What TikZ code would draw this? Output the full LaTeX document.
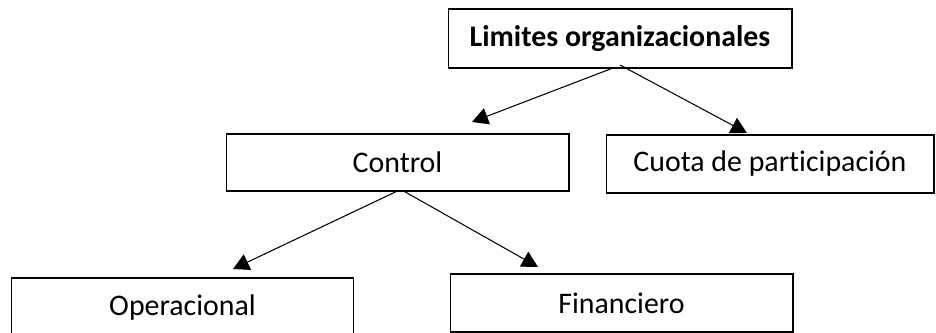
\documentclass[tikz,border=0pt]{standalone}
\usepackage{fontspec}
\setmainfont{Carlito}[Ligatures=NoCommon]
\usetikzlibrary{arrows.meta}

\tikzset{
  box/.style={draw, line width=0.6pt, inner sep=0pt, outer sep=0pt, font=\fontsize{17}{20}\selectfont},
  link/.style={line width=0.6pt, -{Triangle[length=0.32cm, width=0.34cm]}}
}

\begin{document}
\begin{tikzpicture}[x=0.02cm, y=-0.02cm]
\useasboundingbox (0,0) rectangle (936,333);
\node[box, minimum width=6.88cm, minimum height=1.18cm, font=\fontsize{17}{20}\selectfont\bfseries] (lim) at (620,38.5) {Limites organizacionales};
\node[box, minimum width=6.86cm, minimum height=1.14cm] (ctrl) at (397.5,162.5) {Control};
\node[box, minimum width=6.56cm, minimum height=1.16cm] (cuota) at (770,164) {Cuota de participación};
\node[box, minimum width=6.86cm, minimum height=1.2cm] (op) at (182.5,308) {Operacional};
\node[box, minimum width=6.86cm, minimum height=1.16cm] (fin) at (621.5,303) {Financiero};
\coordinate (t1) at (472,122);
\coordinate (t2) at (747,133);
\coordinate (t3) at (233,269);
\coordinate (t4) at (538,267);
\draw[link] ([xshift=-0.14cm]lim.south) -- (t1);
\draw[link] ([yshift=0.06cm]lim.south) -- (t2);
\draw[link] (ctrl.south) -- (t3);
\draw[link] ([xshift=0.12cm]ctrl.south) -- (t4);
\end{tikzpicture}
\end{document}
